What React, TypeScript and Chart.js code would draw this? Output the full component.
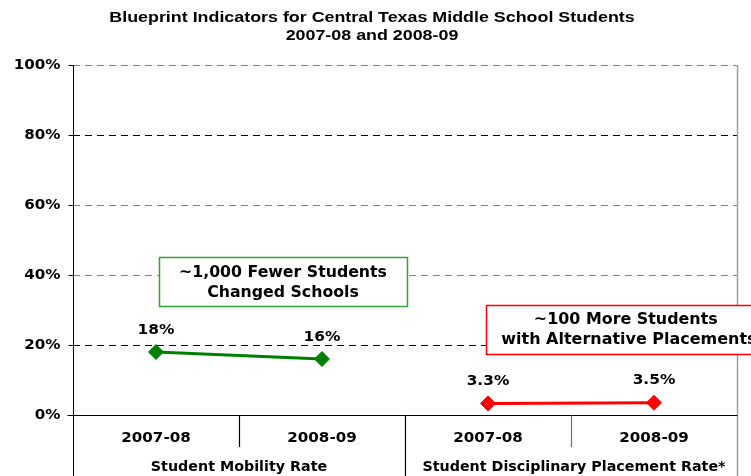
import React, { useEffect, useRef } from "react";
import { Chart, registerables } from "chart.js";

Chart.register(...registerables);

// ---- data ----
const categories = ["2007-08", "2008-09", "2007-08", "2008-09"];
const groupLabels = ["Student Mobility Rate", "Student Disciplinary Placement Rate*"];
const groupSizes = [2, 2];
const mobilityRate = [18, 16, null, null];
const disciplinaryRate = [null, null, 3.3, 3.5];
const mobilityText = ["18%", "16%", "", ""];
const disciplinaryText = ["", "", "3.3%", "3.5%"];
const yTickValues = [0, 20, 40, 60, 80, 100];
const titleLines = [
  "Blueprint Indicators for Central Texas Middle School Students",
  "2007-08 and 2008-09",
];
const noteMobility = ["~1,000 Fewer Students", "Changed Schools"];
const noteDisciplinary = ["~100 More Students", "with Alternative Placements"];

// ---- layout / style (not data) ----
const GREEN = "#008000";
const RED = "#ff0000";
const FONT = '"DejaVu Sans", Verdana, sans-serif';
const notesLayout = [
  { lines: noteMobility, x0: 0.02, x1: 1.51, yTop: 45.1, yBot: 31.1, color: "#3a9f3a" },
  { lines: noteDisciplinary, x0: 1.99, x1: 4.0, yTop: 31.4, yBot: 17.4, color: RED },
];

function drawText(
  ctx: CanvasRenderingContext2D,
  s: string,
  x: number,
  y: number,
  font: string,
  align: CanvasTextAlign,
  sx = 1,
  color = "#000"
) {
  ctx.save();
  ctx.font = font;
  ctx.fillStyle = color;
  ctx.textBaseline = "middle";
  ctx.textAlign = align;
  ctx.translate(x, y);
  ctx.scale(sx, 1);
  ctx.fillText(s, 0, 0);
  ctx.restore();
}

function line(ctx: CanvasRenderingContext2D, x1: number, y1: number, x2: number, y2: number, color: string, w = 1) {
  ctx.save();
  ctx.strokeStyle = color;
  ctx.lineWidth = w;
  ctx.beginPath();
  ctx.moveTo(x1, y1);
  ctx.lineTo(x2, y2);
  ctx.stroke();
  ctx.restore();
}

const decorPlugin = {
  id: "decor",
  afterDraw(chart: any) {
    const ctx: CanvasRenderingContext2D = chart.ctx;
    const area = chart.chartArea;
    const xs = chart.scales.x;
    const ys = chart.scales.y;
    const H = chart.height;
    const W = chart.width;
    const step = xs.getPixelForValue(1) - xs.getPixelForValue(0);
    const px = (v: number) => xs.getPixelForValue(0) + v * step;
    const L = Math.round(area.left) + 0.5;
    const B = Math.round(area.bottom) + 0.5;
    const R = Math.round(area.right) + 0.5;

    // title
    const cx = (area.left + area.right) / 2 - 33;
    const tf = 'bold 15px "Liberation Sans", Arial, sans-serif';
    drawText(ctx, titleLines[0], cx, 17.5, tf, "center", 1.19);
    drawText(ctx, titleLines[1], cx, 36, tf, "center", 1.19);

    // y ticks & labels
    yTickValues.forEach((v) => {
      const y = Math.round(ys.getPixelForValue(v)) + 0.5;
      line(ctx, L - 5, y, L, y, "#000");
      drawText(ctx, v + "%", L - 13, y, "bold 14px " + FONT, "right", 1.08);
    });

    // right border
    line(ctx, R, area.top, R, H, "#a0a0a0", 1.5);
    // left axis extension
    line(ctx, L, area.top, L, H, "#000");
    // x axis
    line(ctx, L - 6, B, R, B, "#000");

    // category separators and labels
    let idx = 0;
    groupSizes.forEach((n, g) => {
      const start = idx;
      for (let k = 0; k < n; k++) {
        const i = idx + k;
        const c = xs.getPixelForValue(i);
        drawText(ctx, categories[i], c, 438, "bold 14px " + FONT, "center", 1.08);
        if (k < n - 1) {
          const sx = Math.round(c + step / 2) + 0.5;
          line(ctx, sx, B, sx, 447, g === 0 ? "#000" : "#707070", 1.2);
        }
      }
      idx += n;
      const gl = px(start - 0.5);
      const gr = px(idx - 0.5);
      drawText(ctx, groupLabels[g], (gl + gr) / 2 + (g === 1 ? 3 : 0), 467, "bold 14px " + FONT, "center", 1.02);
      if (idx < categories.length) {
        const sx = Math.round(gr) + 0.5;
        line(ctx, sx, B, sx, H, "#000", 1.2);
      }
    });

    // value labels
    const drawVals = (vals: (number | null)[], texts: string[]) => {
      vals.forEach((v, i) => {
        if (v === null || !texts[i]) return;
        drawText(ctx, texts[i], xs.getPixelForValue(i), ys.getPixelForValue(v) - 22, "bold 14px " + FONT, "center", 1.1);
      });
    };
    drawVals(mobilityRate, mobilityText);
    drawVals(disciplinaryRate, disciplinaryText);

    // annotation boxes
    notesLayout.forEach((n) => {
      const x0 = Math.round(px(n.x0)) + 0.5;
      const x1 = Math.min(Math.round(px(n.x1)) + 0.5, W + 10);
      const y0 = Math.round(ys.getPixelForValue(n.yTop)) + 0.5;
      const y1 = Math.round(ys.getPixelForValue(n.yBot)) + 0.5;
      ctx.save();
      ctx.fillStyle = "#fff";
      ctx.fillRect(x0, y0, x1 - x0, y1 - y0);
      ctx.strokeStyle = n.color;
      ctx.lineWidth = 1.5;
      ctx.beginPath();
      ctx.moveTo(x1, y0);
      ctx.lineTo(x0, y0);
      ctx.lineTo(x0, y1);
      ctx.lineTo(x1, y1);
      if (x1 < W) ctx.closePath();
      ctx.stroke();
      ctx.restore();
    });
    // note texts
    const nf = "bold 15px " + FONT;
    const n1 = notesLayout[0];
    const c1 = (px(n1.x0) + px(n1.x1)) / 2;
    const m1 = (ys.getPixelForValue(n1.yTop) + ys.getPixelForValue(n1.yBot)) / 2;
    drawText(ctx, n1.lines[0], c1, m1 - 9, nf, "center", 1.05);
    drawText(ctx, n1.lines[1], c1, m1 + 11, nf, "center", 1.05);
    const n2 = notesLayout[1];
    const m2 = (ys.getPixelForValue(n2.yTop) + ys.getPixelForValue(n2.yBot)) / 2;
    drawText(ctx, n2.lines[0], px(2.83), m2 - 9, nf, "center", 1.06);
    drawText(ctx, n2.lines[1], px(2.08), m2 + 11, nf, "left", 1.065);
  },
};

export default function App() {
  const ref = useRef<HTMLCanvasElement>(null);
  useEffect(() => {
    if (!ref.current) return;
    const gridColor = (c: any) => {
      const v = c.tick ? c.tick.value : 0;
      return v === 20 || v === 80 ? "#000" : "#808080";
    };
    const chart = new Chart(ref.current, {
      type: "line",
      data: {
        labels: categories,
        datasets: [
          {
            data: mobilityRate,
            borderColor: GREEN,
            backgroundColor: GREEN,
            borderWidth: 3,
            pointStyle: "rectRot",
            pointRadius: 7.5,
            pointBorderWidth: 1,
            spanGaps: false,
          },
          {
            data: disciplinaryRate,
            borderColor: RED,
            backgroundColor: RED,
            borderWidth: 3,
            pointStyle: "rectRot",
            pointRadius: 7.5,
            pointBorderWidth: 1,
            spanGaps: false,
          },
        ],
      },
      options: {
        animation: false,
        responsive: false,
        layout: { padding: { top: 65, right: 14, left: 0, bottom: 0 } },
        plugins: { legend: { display: false }, title: { display: false }, tooltip: { enabled: false } },
        scales: {
          x: {
            type: "category",
            offset: true,
            grid: { display: false },
            border: { display: false },
            ticks: { display: false },
            afterFit: (s: any) => {
              s.height = 61;
            },
          },
          y: {
            min: 0,
            max: 100,
            ticks: { stepSize: 20, display: false },
            grid: { color: gridColor, lineWidth: 1, drawTicks: false },
            border: { display: false, dash: [7, 5] },
            afterFit: (s: any) => {
              s.width = 73;
            },
          },
        },
      },
      plugins: [decorPlugin],
    });
    return () => chart.destroy();
  }, []);
  return (
    <div style={{ position: "fixed", left: 0, top: 0, width: 751, height: 476, background: "#fff" }}>
      <canvas ref={ref} width={751} height={476} style={{ display: "block" }} />
    </div>
  );
}
